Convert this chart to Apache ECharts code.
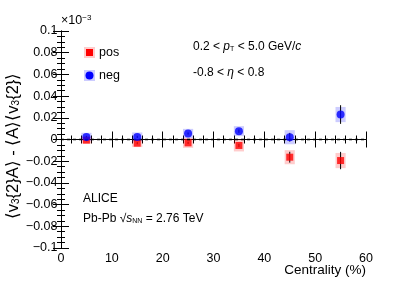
<!DOCTYPE html>
<html><head><meta charset="utf-8">
<script src="https://cdn.jsdelivr.net/npm/echarts@6/dist/echarts.min.js"></script>
<style>html,body{margin:0;padding:0;background:#fff}#c{width:407px;height:292px}</style>
</head><body><div id="c"></div>
<script>
// Data (units of 10^-3)
const centrality = [5, 15, 25, 35, 45, 55];
const posValues = [-0.0006, -0.0034, -0.0031, -0.0055, -0.0163, -0.0194];
const posStat   = [0.001, 0.001, 0.001, 0.0015, 0.005, 0.008];
const posSyst   = [0.0032, 0.0036, 0.0046, 0.0055, 0.0065, 0.007];
const negValues = [0.0024, 0.0024, 0.0055, 0.0077, 0.0021, 0.023];
const negStat   = [0.001, 0.001, 0.001, 0.0015, 0.004, 0.0086];
const negSyst   = [0.0038, 0.0041, 0.0043, 0.0046, 0.0065, 0.007];
const xTicks = [0, 10, 20, 30, 40, 50, 60];
const yTicks = [-0.1, -0.08, -0.06, -0.04, -0.02, 0, 0.02, 0.04, 0.06, 0.08, 0.1];

const FONT = '"Liberation Sans", Arial, sans-serif';
const chart = echarts.init(document.getElementById('c'));

function zip3(a, b, c) { return a.map((v, i) => [v, b[i], c[i]]); }

function boxSeries(vals, syst, color) {
  return {
    type: 'custom', xAxisIndex: 0, yAxisIndex: 0, z: 2,
    data: zip3(centrality, vals, syst),
    renderItem: function (params, api) {
      const x = api.value(0), y = api.value(1), s = api.value(2);
      const p1 = api.coord([x - 1, y + s]);
      const p2 = api.coord([x + 1, y - s]);
      return { type: 'rect', shape: { x: p1[0], y: p1[1], width: p2[0] - p1[0], height: p2[1] - p1[1] }, style: { fill: color } };
    }
  };
}
function errSeries(vals, stat) {
  return {
    type: 'custom', xAxisIndex: 0, yAxisIndex: 0, z: 3,
    data: zip3(centrality, vals, stat),
    renderItem: function (params, api) {
      const x = api.value(0), y = api.value(1), e = api.value(2);
      const p1 = api.coord([x, y + e]);
      const p2 = api.coord([x, y - e]);
      return { type: 'line', shape: { x1: p1[0], y1: p1[1], x2: p2[0], y2: p2[1] }, style: { stroke: '#000', lineWidth: 1 } };
    }
  };
}

const fmtY = v => { const r = Math.round(v * 100) / 100; return (r === 0 ? '0' : String(r)).replace('-', '\u2212'); };

function axis(extra, split) {
  return Object.assign({
    axisLine: { lineStyle: { color: '#000', width: 1 } },
    axisTick: { inside: true, length: 8, lineStyle: { color: '#000' } },
    minorTick: { show: true, splitNumber: split, length: 4, lineStyle: { color: '#000' } },
    splitLine: { show: false }
  }, extra);
}

chart.setOption({
  animation: false,
  grid: { left: 61, right: 41, top: 31, bottom: 44 },
  xAxis: [
    axis({ type: 'value', min: xTicks[0], max: xTicks[xTicks.length - 1], interval: 10, position: 'bottom',
      axisLabel: { color: '#000', fontSize: 12.5, fontFamily: FONT, margin: 4 } }, 5),
    axis({ type: 'value', min: xTicks[0], max: xTicks[xTicks.length - 1], interval: 10, position: 'top',
      axisLabel: { show: false } }, 5)
  ],
  yAxis: [
    axis({ type: 'value', min: yTicks[0], max: yTicks[yTicks.length - 1], interval: 0.02, position: 'left',
      axisLabel: { color: '#000', fontSize: 12.5, fontFamily: FONT, margin: 3.5, formatter: fmtY } }, 4),
    axis({ type: 'value', min: yTicks[0], max: yTicks[yTicks.length - 1], interval: 0.02, position: 'right',
      axisLabel: { show: false } }, 4)
  ],
  series: [
    boxSeries(posValues, posSyst, 'rgba(255,0,0,0.2)'),
    boxSeries(negValues, negSyst, 'rgba(0,0,255,0.2)'),
    errSeries(posValues, posStat),
    errSeries(negValues, negStat),
    {
      type: 'scatter', z: 4, symbol: 'rect', symbolSize: 7,
      itemStyle: { color: '#ff0000' },
      data: centrality.map((c, i) => [c, posValues[i]]),
      markLine: { silent: true, symbol: 'none', label: { show: false },
        lineStyle: { color: '#000', type: [3, 3], width: 1.3 },
        data: [{ yAxis: 0 }] }
    },
    {
      type: 'scatter', z: 5, symbol: 'circle', symbolSize: 8,
      itemStyle: { color: '#0000ff' },
      data: centrality.map((c, i) => [c, negValues[i]])
    }
  ],
  graphic: [
    { type: 'text', left: 61, top: 14, style: { text: '\u00d710{sup|\u22123}', font: '12.5px ' + FONT, fill: '#000',
        rich: { sup: { fontSize: 8, fontFamily: FONT, verticalAlign: 'top', lineHeight: 8 } } } },
    // legend
    { type: 'rect', shape: { x: 84, y: 47, width: 11, height: 11 }, style: { fill: 'rgba(255,0,0,0.2)' } },
    { type: 'rect', shape: { x: 86, y: 49, width: 7, height: 7 }, style: { fill: '#ff0000' } },
    { type: 'text', x: 99, y: 53, style: { text: 'pos', font: '12.5px ' + FONT, fill: '#000', verticalAlign: 'middle' } },
    { type: 'rect', shape: { x: 84, y: 70, width: 11, height: 11 }, style: { fill: 'rgba(0,0,255,0.2)' } },
    { type: 'circle', shape: { cx: 89.5, cy: 75.5, r: 4 }, style: { fill: '#0000ff' } },
    { type: 'text', x: 99, y: 76, style: { text: 'neg', font: '12.5px ' + FONT, fill: '#000', verticalAlign: 'middle' } },
    // annotations
    { type: 'text', x: 193, y: 47, style: { text: '0.2 < {i|p}{sub|T} < 5.0 GeV/{i|c}', font: '12px ' + FONT, fill: '#000', verticalAlign: 'middle',
        rich: { i: { fontStyle: 'italic', fontSize: 12, fontFamily: FONT }, sub: { fontSize: 7, fontFamily: FONT, verticalAlign: 'bottom', lineHeight: 6 } } } },
    { type: 'text', x: 193, y: 73, style: { text: '-0.8 < {i|\u03b7} < 0.8', font: '12px ' + FONT, fill: '#000', verticalAlign: 'middle',
        rich: { i: { fontStyle: 'italic', fontSize: 12, fontFamily: FONT } } } },
    { type: 'text', x: 83, y: 199, style: { text: 'ALICE', font: '12px ' + FONT, fill: '#000', verticalAlign: 'middle' } },
    { type: 'text', x: 83, y: 219, style: { text: 'Pb-Pb \u221a{i|s}{sub|NN} = 2.76 TeV', font: '12px ' + FONT, fill: '#000', verticalAlign: 'middle',
        rich: { i: { fontStyle: 'italic', fontSize: 12, fontFamily: FONT }, sub: { fontSize: 7, fontFamily: FONT, verticalAlign: 'bottom', lineHeight: 6 } } } },
    { type: 'text', x: 366, y: 270, style: { text: 'Centrality (%)', font: '13.5px ' + FONT, fill: '#000', align: 'right', verticalAlign: 'middle' } },
    { type: 'text', x: 13, y: 146, rotation: Math.PI / 2,
      style: { text: '\u27e8v{sub|3}{2}A\u27e9 - \u27e8A\u27e9\u27e8v{sub|3}{2}\u27e9', font: '16.5px ' + FONT, fill: '#000', align: 'center', verticalAlign: 'middle',
        rich: { sub: { fontSize: 10, fontFamily: FONT, verticalAlign: 'bottom', lineHeight: 6 } } } }
  ]
});
</script>
</body></html>
